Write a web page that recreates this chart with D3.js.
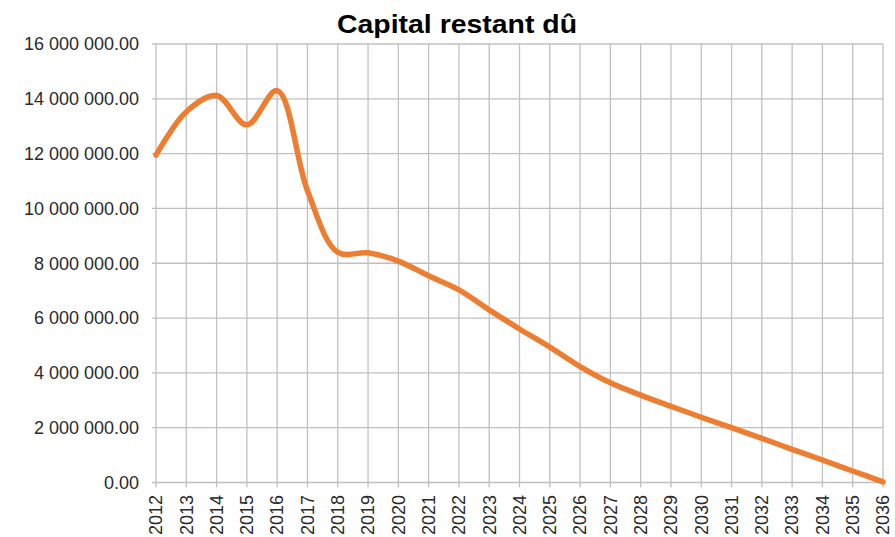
<!DOCTYPE html>
<html><head><meta charset="utf-8">
<script src="https://cdn.jsdelivr.net/npm/d3@7/dist/d3.min.js"></script>
<style>body{margin:0;background:#fff}svg{display:block}</style>
</head><body>
<svg id="chart" width="895" height="537"></svg>
<script>
const title = "Capital restant dû";
const years = [2012,2013,2014,2015,2016,2017,2018,2019,2020,2021,2022,2023,2024,2025,2026,2027,2028,2029,2030,2031,2032,2033,2034,2035,2036];
const capital = [11950000,13530000,14120000,13050000,14300000,10650000,8400000,8380000,8080000,7540000,7030000,6300000,5600000,4940000,4230000,3640000,3190000,2780000,2380000,2000000,1610000,1210000,820000,420000,20000];
const yTicks = [0,2000000,4000000,6000000,8000000,10000000,12000000,14000000,16000000];

const svg = d3.select("#chart");
const L = 156, R = 883, T = 44, B = 482.5;
const x = d3.scalePoint().domain(years).range([L, R]);
const y = d3.scaleLinear().domain([0, 16000000]).range([B, T]);
const grid = "#c0c0c0";

const fmt = v => d3.format(",.2f")(v).replace(/,/g, " ");

// horizontal grid
svg.append("g").selectAll("line").data(yTicks).join("line")
  .attr("x1", L - 4).attr("x2", R)
  .attr("y1", d => y(d)).attr("y2", d => y(d))
  .attr("stroke", grid).attr("stroke-width", 1.3);
// vertical grid
svg.append("g").selectAll("line").data(years).join("line")
  .attr("x1", d => x(d)).attr("x2", d => x(d))
  .attr("y1", T).attr("y2", B + 5)
  .attr("stroke", grid).attr("stroke-width", 1.3);

// y labels
svg.append("g").selectAll("text").data(yTicks).join("text")
  .attr("x", 139).attr("y", d => y(d)).attr("dy", "0.35em")
  .attr("text-anchor", "end")
  .attr("font-family", "Liberation Sans, Arial, sans-serif")
  .attr("font-size", 18).attr("fill", "#2a2a2a")
  .text(fmt);

// x labels
svg.append("g").selectAll("text").data(years).join("text")
  .attr("transform", d => `translate(${x(d)},495) rotate(-90)`)
  .attr("dy", "0.35em")
  .attr("text-anchor", "end")
  .attr("font-family", "Liberation Sans, Arial, sans-serif")
  .attr("font-size", 18).attr("fill", "#2a2a2a")
  .text(d => d);

// line
const line = d3.line().x((d, i) => x(years[i])).y(d => y(d)).curve(d3.curveCatmullRom.alpha(0.5));
svg.append("path").datum(capital)
  .attr("d", line)
  .attr("fill", "none").attr("stroke", "#ED7D31")
  .attr("stroke-width", 5.5).attr("stroke-linecap", "round").attr("stroke-linejoin", "round");

// title
svg.append("text")
  .attr("x", 457).attr("y", 33)
  .attr("text-anchor", "middle")
  .attr("font-family", "Liberation Sans, Arial, sans-serif")
  .attr("font-weight", "bold").attr("font-size", 25).attr("fill", "#000")
  .attr("textLength", 240).attr("lengthAdjust", "spacingAndGlyphs")
  .text(title);
</script>
</body></html>
